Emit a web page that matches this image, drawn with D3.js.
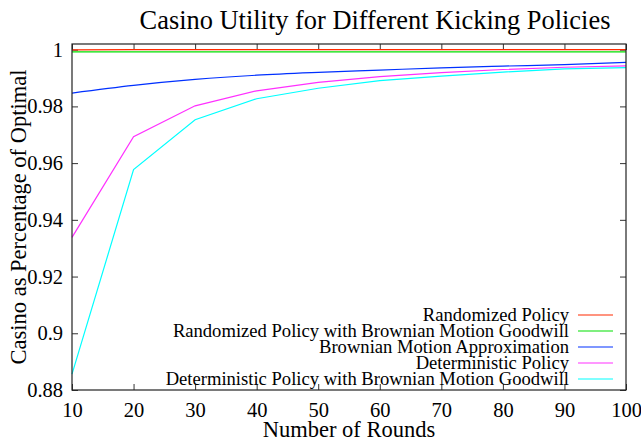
<!DOCTYPE html>
<html>
<head>
<meta charset="utf-8">
<script src="https://cdn.jsdelivr.net/npm/d3@7"></script>
<style>
  body { margin: 0; background: #fff; }
  svg text { font-family: "Liberation Serif", "Times New Roman", serif; fill: #000; }
</style>
</head>
<body>
<div id="chart"></div>
<script>
// data
var rounds = [10, 20, 30, 40, 50, 60, 70, 80, 90, 100];
var randomized = [0.9999, 1.0, 1.0, 1.0, 1.0, 1.0, 1.0, 1.0, 1.0, 1.0];
var randomizedBM = [0.9992, 0.9992, 0.9992, 0.9992, 0.9992, 0.9992, 0.9992, 0.9992, 0.9992, 0.9992];
var brownian = [0.9847, 0.9874, 0.9895, 0.9910, 0.9920, 0.9928, 0.9936, 0.9942, 0.9947, 0.9955];
var deterministic = [0.9338, 0.9693, 0.9802, 0.9855, 0.9885, 0.9905, 0.9919, 0.9930, 0.9938, 0.9943];
var deterministicBM = [0.8856, 0.9577, 0.9753, 0.9827, 0.9864, 0.9891, 0.9907, 0.9921, 0.9932, 0.9937];

var seriesNames = ["Randomized Policy", "Randomized Policy with Brownian Motion Goodwill",
  "Brownian Motion Approximation", "Deterministic Policy",
  "Deterministic Policy with Brownian Motion Goodwill"];
var seriesColors = ["#ff2a00", "#00e000", "#0030ff", "#ff30ff", "#00ffff"];
var seriesValues = [randomized, randomizedBM, brownian, deterministic, deterministicBM];

var xTicks = [10, 20, 30, 40, 50, 60, 70, 80, 90, 100];
var yTicks = [0.88, 0.9, 0.92, 0.94, 0.96, 0.98, 1];

var W = 641, H = 442;
var mLeft = 72, mRight = 626, mTop = 44, mBottom = 390;
var serif = '"Liberation Serif", "Times New Roman", serif';

var svg = d3.select("#chart").append("svg").attr("width", W).attr("height", H);

var x = d3.scaleLinear().domain([10, 100]).range([mLeft, mRight]);
var y = d3.scaleLinear().domain([0.88, 1.002]).range([mBottom, mTop]);

// title (sits right of the plot centre in the original)
svg.append("text").attr("x", 375).attr("y", 29)
  .attr("text-anchor", "middle").style("font-family", serif).style("font-size", "26.4px")
  .text("Casino Utility for Different Kicking Policies");

// axes, gnuplot style: ticks inside, mirrored
var tl = 6;
var axB = svg.append("g").attr("transform", "translate(0," + mBottom + ")")
  .call(d3.axisBottom(x).tickValues(xTicks).tickSizeInner(-tl).tickSizeOuter(0).tickPadding(12));
var axT = svg.append("g").attr("transform", "translate(0," + mTop + ")")
  .call(d3.axisTop(x).tickValues(xTicks).tickSizeInner(-tl).tickSizeOuter(0).tickFormat(""));
var axL = svg.append("g").attr("transform", "translate(" + mLeft + ",0)")
  .call(d3.axisLeft(y).tickValues(yTicks).tickSizeInner(-tl).tickSizeOuter(0)
    .tickPadding(9).tickFormat(d3.format("~g")));
var axR = svg.append("g").attr("transform", "translate(" + mRight + ",0)")
  .call(d3.axisRight(y).tickValues(yTicks).tickSizeInner(-tl).tickSizeOuter(0).tickFormat(""));

[axB, axT, axL, axR].forEach(function(a) {
  a.attr("font-family", null);
  a.select(".domain").remove();
  a.selectAll(".tick line").attr("stroke", "#333");
  a.selectAll("text").style("font-family", serif).style("font-size", "20.5px").attr("fill", "#000");
});

// series
var line = d3.line().x(function(d, i) { return x(rounds[i]); }).y(function(d) { return y(d); });
var smooth = d3.line().x(function(d, i) { return x(rounds[i]); }).y(function(d) { return y(d); })
  .curve(d3.curveMonotoneX);

seriesValues.forEach(function(vals, k) {
  svg.append("path").datum(vals)
    .attr("d", k == 2 ? smooth : line)
    .attr("fill", "none")
    .attr("stroke", seriesColors[k])
    .attr("stroke-width", 1.2);
});

// frame
svg.append("rect").attr("x", mLeft).attr("y", mTop)
  .attr("width", mRight - mLeft).attr("height", mBottom - mTop)
  .attr("fill", "none").attr("stroke", "#222").attr("stroke-width", 1.2);

// legend
var leg = svg.append("g");
seriesNames.forEach(function(n, k) {
  var ly = 315 + k * 16;
  leg.append("text").attr("x", 569).attr("y", ly).attr("dy", "0.33em")
    .attr("text-anchor", "end").style("font-family", serif).style("font-size", "18.6px").text(n);
  leg.append("line").attr("x1", 578).attr("x2", 613).attr("y1", ly).attr("y2", ly)
    .attr("stroke", seriesColors[k]).attr("stroke-width", 1.2);
});

// axis titles
svg.append("text").attr("x", (mLeft + mRight) / 2).attr("y", 437)
  .attr("text-anchor", "middle").style("font-family", serif).style("font-size", "22.5px")
  .text("Number of Rounds");
svg.append("text").attr("transform", "translate(26," + (mTop + mBottom) / 2 + ") rotate(-90)")
  .attr("text-anchor", "middle").style("font-family", serif).style("font-size", "22.5px")
  .text("Casino as Percentage of Optimal");
</script>
</body>
</html>
